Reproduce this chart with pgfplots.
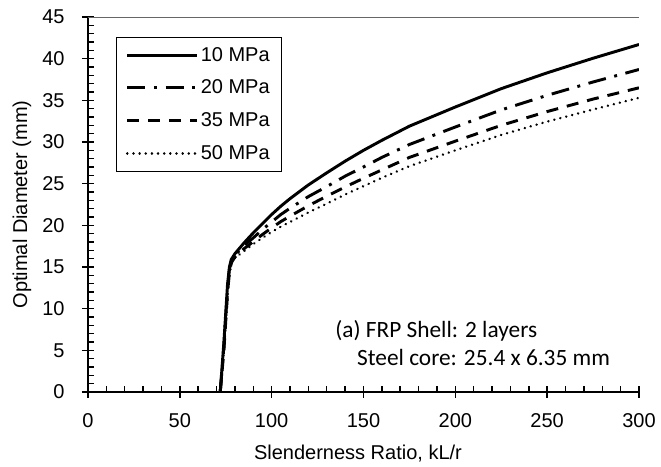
\documentclass[border=0pt]{standalone}
\usepackage{fontspec}
\setmainfont{Liberation Sans}
\newfontfamily\calibri{Carlito}
\usepackage{pgfplots}
\pgfplotsset{compat=1.18}
\begin{document}
\begin{tikzpicture}
\begin{axis}[
  scale only axis,
  width=413.25pt, height=281.25pt,
  at={(0,0)}, anchor=south west,
  xmin=0, xmax=300, ymin=0, ymax=45,
  xtick={0,50,...,300}, ytick={0,5,...,45},
  minor x tick num=4, minor y tick num=4,
  axis x line*=bottom, axis y line*=left,
  axis line style={line width=1.4pt, -},
  tick align=inside,
  major tick length=9pt, minor tick length=4.2pt,
  every tick/.style={black, line width=1.1pt},
  major x tick style={yshift=-4.5pt},
  major y tick style={xshift=-4.5pt},
  xticklabel shift=12.5pt, yticklabel shift=14pt,
  /pgf/number format/assume math mode=true,
  ticklabel style={font=\fontsize{15}{17}\selectfont},
  xlabel={Slenderness Ratio, kL/r},
  ylabel={Optimal Diameter (mm)},
  label style={font=\fontsize{15}{17}\selectfont},
  xlabel style={at={(axis description cs:0.49,-0.1787)}, anchor=base},
  ylabel style={at={(axis description cs:-0.1198,0.5)}, anchor=center, rotate=0},
  legend style={at={(axis description cs:0.0508,0.9475)}, anchor=north west,
    draw=black, line width=0.8pt, font=\fontsize{15}{17}\selectfont,
    inner xsep=7pt, inner ysep=5.5pt, row sep=8.6pt},
  legend cell align=left,
  legend image code/.code={\draw[#1] (0pt,0pt) -- (52pt,0pt);},
]
\addplot[black, line width=2.2pt] coordinates {
(72,0) (74,6) (76,13) (77,15) (78,15.9) (80,16.6) (85,17.9) (90,19.1) (95,20.2) (100,21.3) (105,22.3) (110,23.2) (120,24.85) (130,26.3) (140,27.7) (150,29.0) (160,30.2) (175,31.9) (200,34.2) (225,36.4) (250,38.3) (275,40.05) (300,41.7)};
\addlegendentry{10 MPa}
\addplot[black, line width=2.2pt, dash pattern=on 13.5pt off 6.5pt on 2.2pt off 6.5pt] coordinates {
(72,0) (74,5.5) (76,12.5) (77,14.7) (78,15.7) (80,16.4) (85,17.6) (90,18.5) (95,19.5) (100,20.4) (105,21.3) (110,22.05) (120,23.45) (130,24.65) (140,25.9) (150,27.0) (160,28.15) (175,29.7) (200,31.8) (225,33.85) (250,35.6) (275,37.2) (300,38.7)};
\addlegendentry{20 MPa}
\addplot[black, line width=2.2pt, dash pattern=on 9pt off 6.75pt] coordinates {
(72,0) (74,5) (76,12) (77,14.3) (78,15.5) (80,16.2) (85,17.2) (90,18.05) (95,18.9) (100,19.7) (105,20.45) (110,21.1) (120,22.35) (130,23.5) (140,24.6) (150,25.65) (160,26.65) (175,28.15) (200,30.1) (225,32.0) (250,33.65) (275,35.15) (300,36.5)};
\addlegendentry{35 MPa}
\addplot[black, line width=2pt, line cap=round, dash pattern=on 0.01pt off 4.6pt] coordinates {
(72,0) (74,5) (76,11.5) (77,14) (78,15.3) (80,16.1) (85,16.9) (90,17.75) (95,18.5) (100,19.2) (105,19.85) (110,20.4) (120,21.55) (130,22.6) (140,23.7) (150,24.7) (160,25.7) (175,27.1) (200,29.0) (225,30.85) (250,32.45) (275,33.9) (300,35.3)};
\addlegendentry{50 MPa}
\draw[gray!80!black, line width=0.6pt] (rel axis cs:0,1) -- (rel axis cs:1,1) -- (rel axis cs:1,0);
\node[anchor=base west, font=\calibri\fontsize{17.5}{20}\selectfont, inner sep=0pt] at (axis cs:134.5,6.48) {(a) FRP Shell: 2 layers};
\node[anchor=base west, font=\calibri\fontsize{17.5}{20}\selectfont, inner sep=0pt] at (axis cs:146.4,3.12) {Steel core: 25.4 x 6.35 mm};
\end{axis}
\pgfresetboundingbox
\path[use as bounding box] (-66pt,-56.25pt) rectangle (429.75pt,294pt);
\end{tikzpicture}
\end{document}
